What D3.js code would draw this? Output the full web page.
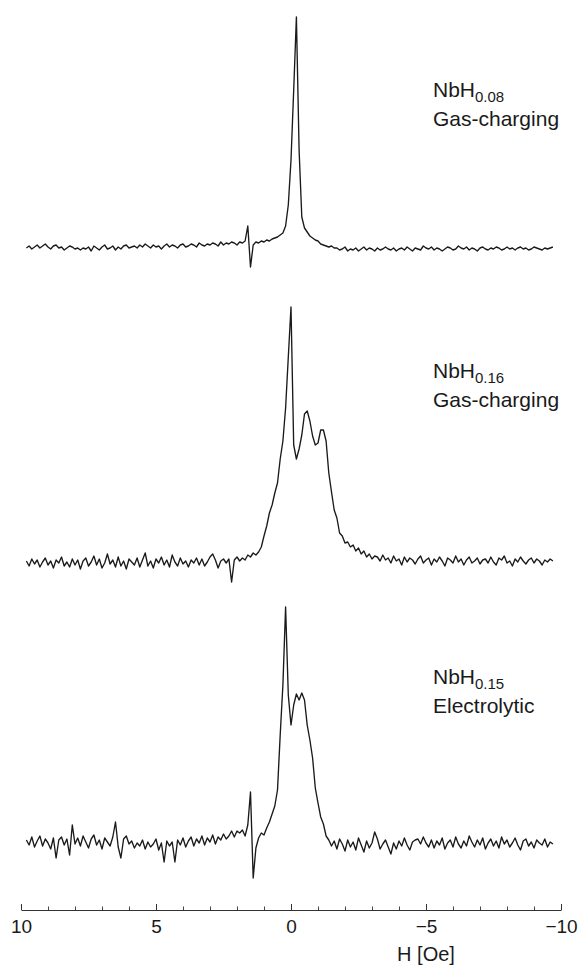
<!DOCTYPE html>
<html>
<head>
<meta charset="utf-8">
<script src="https://cdn.jsdelivr.net/npm/d3@7"></script>
<style>
  html, body { margin: 0; padding: 0; background: #fff; }
  svg { display: block; }
  text { font-family: "Liberation Sans", Arial, Helvetica, sans-serif; fill: #1a1a1a; }
</style>
</head>
<body>
<svg id="chart" width="579" height="965"></svg>
<script>
// ---------------- DATA ----------------
// Field sweep: H from 9.8 Oe down to -9.7 Oe, 0.1 Oe per sample (196 samples)
const H_START = 9.8, H_STEP = 0.1, N_SAMPLES = 196;

// Spectrum intensities (arbitrary units, baseline ~ 0), one value per field sample
const nbh008 = [
  -1, 1, -2, 0, 2, -1, 1, 3, 0, -2, 1, 2, -1, 0, -3, -1, 1, 0, -2, -1,
  -3, -1, -2, 0, -4, 1, -1, -3, 0, 2, -2, -1, 1, -3, 0, -2, 1, 2, -1, 0,
  1, -1, 2, 0, 3, 1, -1, 2, 0, 1, -2, 1, 3, 0, 2, 1, -1, 2, 3, 0,
  1, 3, 2, 0, 4, 2, 1, 3, 2, 4, 3, 1, 5, 2, 4, 3, 5, 4, 2, 5,
  4, 6, 21, -20, 2, 5, 4, 6, 5, 7, 6, 8, 9, 10, 12, 14, 21, 42, 87, 157,
  230, 97, 30, 19, 15, 11, 9, 7, 6, 3, 2, 1, 0, 1, -1,
  -1, -3, -2, 0, -4, -2, -3, -1, -4, -2, 0, -3, -1, -2, -4, -1, -3, -2, 0, -2,
  -3, -1, -4, -2, -1, -3, 0, -2, -4, -1, -2, -3, 1, -1, -2, 0, -3, -1, -2, -4,
  -2, 0, -1, -3, -2, 1, -1, -2, 0, -3, -1, -2, -4, -1, 0, -2, -3, -1, -2, 0,
  -1, -3, -2, 0, -2, -1, -3, -1, 0, -2, -1, -3, -2, 0, -1, -2, -3, -1, -2, -1, 0
];
const nbh016 = [
  2, -3, 4, -1, 3, -4, 1, 5, -2, 2, -5, 3, 0, 6, -3, 1, -4, 4, -2, 3,
  -6, 2, 5, -3, 1, 7, -2, 4, -5, 0, 9, -1, 3, -4, 6, -3, 2, -6, 4, 1,
  -2, 5, -4, 3, 10, -3, 2, -5, 4, 0, 6, -2, 3, -4, 8, 1, -3, 5, -1, 2,
  -4, 3, 0, 5, -2, 4, -3, 1, 6, 9, 3, -5, 2, 4, 0, 4, -19, 3, 6, 2,
  5, 3, 8, 6, 10,
  8, 11, 16, 27, 37, 50, 58, 70, 80, 104, 122, 155, 206, 256, 118, 104, 114, 128, 149, 152,
  142, 127, 118, 120, 133, 133, 122, 90, 71, 53, 45, 30, 27, 20, 21, 16, 18, 12, 15, 9,
  12, 6, 9, 4, 7,
  6, 2, 8, 3, 5, 0, 7, 2, 4, -2, 6, 1, 5, 3, -1, 4, 7, 0, 3, 5,
  -2, 4, 1, 6, 2, -3, 5, 3, 0, 7, 1, 4, -2, 3, 6, 0, 2, 5, -1, 3,
  4, 0, 6, 1, -2, 5, 3, 7, 0, 2, -3, 4, 1, 6, 2, -1, 3, 5, 0, 4, 2, -2, 3, 1, 4, 2
];
const nbh015 = [
  3, -2, 6, -4, 2, 7, -3, 4, 0, -6, 5, -15, 3, 6, -2, 4, -12, 18, -1, 5,
  -3, 7, 1, -5, 4, 8, -2, 3, -6, 5, 1, -3, 6, 21, -4, -15, 4, 7, -1, 2,
  -5, 0, -3, 3, -6, 1, -4, -1, 4, -7, 0, -19, 2, -3, 1, -19, 3, -2, 5, -4,
  2, 6, -3, 4, 0, 7, -2, 5, 1, 8, -1, 6, 3, 9, 4, 7, 12, 6,
  12, 10, 13, 7, 18, 51, -35, -5, 5, 10, 8, 15, 21, 29, 37, 53, 108, 158, 236, 148,
  118, 138, 149, 143, 150, 143, 118, 103, 85, 55, 40, 26, 19, 7, 3,
  -3, 2, -6, 4, -1, -8, 3, -4, 1, -7, 5, -2, -9, 2, -5, 0, 11, 4, -6, -1,
  3, -4, -11, 0, -6, 2, -3, 5, -2, -7, 1, 3, 4, -1, 6, 0, -4, 3, -5, 2,
  -2, 5, -6, 0, 3, -4, 6, -1, -5, 2, -3, 7, 1, -4, 3, -2, 5, -6, 0, 4,
  -3, 2, -5, 6, -1, 3, -4, 0, 5, -2, -7, 2, 4, -3, 1, -5, 3, 0, -2, 4, -4, 1, -1
];
const spectra = [nbh008, nbh016, nbh015];
// vertical stacking offsets of each trace (same units as intensities)
const stackOffsets = [661, 345, 65];

// labels
const labelFormula = ["NbH", "NbH", "NbH"];
const labelSubscript = ["0.08", "0.16", "0.15"];
const labelMethod = ["Gas-charging", "Gas-charging", "Electrolytic"];

// axis
const majorTicks = [10, 5, 0, -5, -10];
const minorTicks = [9, 8, 7, 6, 4, 3, 2, 1, -1, -2, -3, -4, -6, -7, -8, -9];
const axisTitle = "H [Oe]";

// ---------------- LAYOUT ----------------
const labelX = 433;
const labelBaselines = [97, 378, 684];
const lineGap = 28.5;

// ---------------- DRAW ----------------
const svg = d3.select("#chart");
svg.append("rect").attr("width", 579).attr("height", 965).attr("fill", "#fff");

const fieldH = d3.range(N_SAMPLES).map(i => +(H_START - i * H_STEP).toFixed(2));

const x = d3.scaleLinear().domain([10, -10]).range([21, 561]);
const y = d3.scaleLinear().domain([0, 900]).range([908, 8]);

spectra.forEach((vals, k) => {
  const line = d3.line()
    .x((d, i) => x(fieldH[i]))
    .y(d => y(d + stackOffsets[k]));
  svg.append("path")
    .datum(vals)
    .attr("d", line)
    .attr("fill", "none")
    .attr("stroke", "#1a1a1a")
    .attr("stroke-width", 1.35)
    .attr("stroke-linejoin", "round");
});

// labels
labelFormula.forEach((f, k) => {
  const t = svg.append("text")
    .attr("x", labelX)
    .attr("y", labelBaselines[k])
    .style("font-size", "21px");
  t.append("tspan").text(f);
  t.append("tspan").attr("dy", 5).style("font-size", "15px").text(labelSubscript[k]);
  svg.append("text")
    .attr("x", labelX)
    .attr("y", labelBaselines[k] + lineGap)
    .style("font-size", "21px")
    .text(labelMethod[k]);
});

// axis
const axisY = 910;
const gAxis = svg.append("g").attr("transform", `translate(0,${axisY})`);
gAxis.call(
  d3.axisBottom(x)
    .tickValues(majorTicks)
    .tickSizeInner(-6)
    .tickSizeOuter(0)
    .tickPadding(9.5)
    .tickFormat(d3.format("d"))
);
gAxis.select(".domain").attr("stroke", "#333");
gAxis.selectAll(".tick line").attr("stroke", "#333");
gAxis.selectAll(".tick text")
  .style("font-size", "19px")
  .style("font-family", '"Liberation Sans", Arial, sans-serif')
  .attr("fill", "#1a1a1a");

const gMinor = svg.append("g").attr("transform", `translate(0,${axisY})`);
gMinor.call(
  d3.axisBottom(x)
    .tickValues(minorTicks)
    .tickSizeInner(-3.5)
    .tickSizeOuter(0)
    .tickFormat("")
);
gMinor.select(".domain").remove();
gMinor.selectAll(".tick line").attr("stroke", "#444");

svg.append("text")
  .attr("x", x(-5))
  .attr("y", 961)
  .attr("text-anchor", "middle")
  .style("font-size", "20px")
  .text(axisTitle);
</script>
</body>
</html>
